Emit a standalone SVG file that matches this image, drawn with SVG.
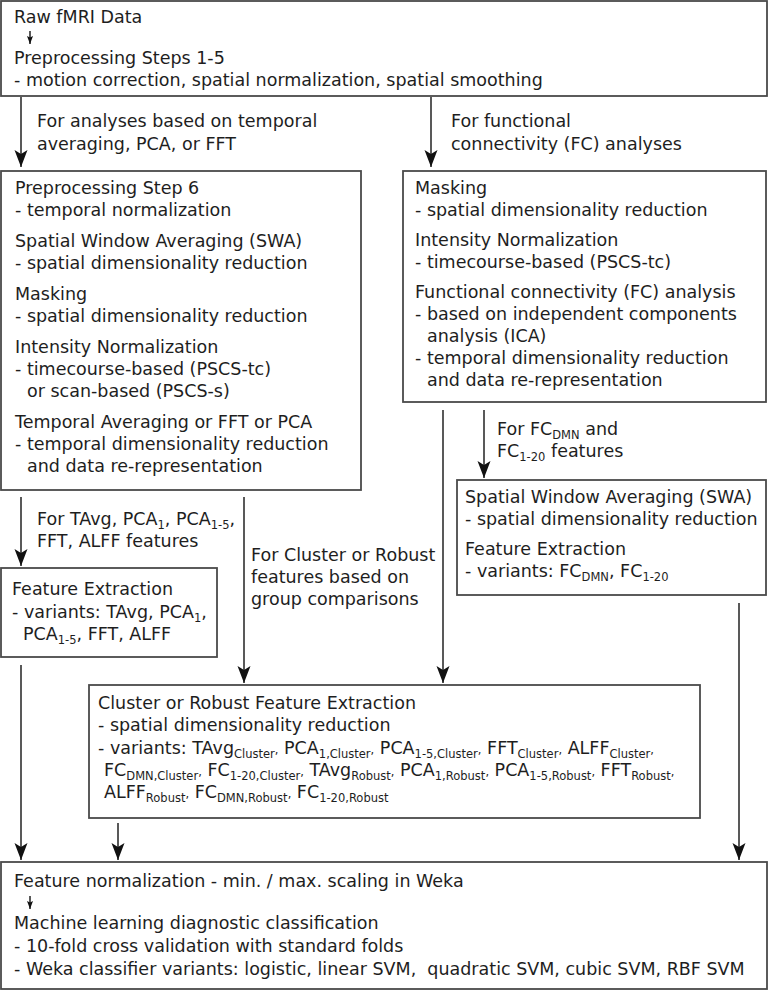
<svg xmlns="http://www.w3.org/2000/svg" width="769" height="991" viewBox="0 0 769 991">
<style>
text{font-family:"DejaVu Sans","Bitstream Vera Sans",sans-serif;font-size:17.5px;fill:#1e1e1e}
.s{font-size:11.5px}
.box{fill:#fff;stroke:#4a4a4a;stroke-width:1.8}
.ln{stroke:#222;stroke-width:1.5;fill:none}
</style>
<defs>
<marker id="ah" markerUnits="userSpaceOnUse" markerWidth="18" markerHeight="14" refX="17" refY="6.5" orient="auto">
<path d="M0,0 L17,6.5 L0,13 L4,6.5 Z" fill="#111"/>
</marker>
<marker id="sah" markerUnits="userSpaceOnUse" markerWidth="9" markerHeight="7" refX="8" refY="3" orient="auto">
<path d="M0,0 L8,3 L0,6 L1.5,3 Z" fill="#111"/>
</marker>
</defs>
<rect width="769" height="991" fill="#fff"/>

<g id="connectors">
<line class="ln" x1="21" y1="97" x2="21" y2="167" marker-end="url(#ah)"/>
<line class="ln" x1="431" y1="97" x2="431" y2="167" marker-end="url(#ah)"/>
<line class="ln" x1="21" y1="497" x2="21" y2="566" marker-end="url(#ah)"/>
<line class="ln" x1="244" y1="497" x2="244" y2="683" marker-end="url(#ah)"/>
<line class="ln" x1="443" y1="410" x2="443" y2="683" marker-end="url(#ah)"/>
<line class="ln" x1="484" y1="410" x2="484" y2="478" marker-end="url(#ah)"/>
<line class="ln" x1="21" y1="665" x2="21" y2="860" marker-end="url(#ah)"/>
<line class="ln" x1="118" y1="823" x2="118" y2="860" marker-end="url(#ah)"/>
<line class="ln" x1="739" y1="603" x2="739" y2="860" marker-end="url(#ah)"/>
<text x="37" y="127">For analyses based on temporal</text>
<text x="37" y="150">averaging, PCA, or FFT</text>
<text x="451" y="127">For functional</text>
<text x="451" y="150">connectivity (FC) analyses</text>
<text x="37" y="525">For TAvg, PCA<tspan class="s" dy="4">1</tspan><tspan dy="-4">, PCA</tspan><tspan class="s" dy="4">1-5</tspan><tspan dy="-4">,</tspan></text>
<text x="37" y="547">FFT, ALFF features</text>
<text x="251" y="561">For Cluster or Robust</text>
<text x="251" y="583">features based on</text>
<text x="251" y="605">group comparisons</text>
<text x="497" y="435">For FC<tspan class="s" dy="4">DMN</tspan><tspan dy="-4"> and</tspan></text>
<text x="497" y="457">FC<tspan class="s" dy="4">1-20</tspan><tspan dy="-4"> features</tspan></text>
</g>

<g id="raw">
<rect class="box" x="1" y="1" width="766" height="95"/>
<text x="14" y="23">Raw fMRI Data</text>
<line class="ln" x1="30" y1="31" x2="30" y2="44" stroke-width="1.2" marker-end="url(#sah)"/>
<text x="14" y="64">Preprocessing Steps 1-5</text>
<text x="14" y="86">- motion correction, spatial normalization, spatial smoothing</text>
</g>

<g id="step6">
<rect class="box" x="1" y="171" width="360" height="319"/>
<text x="15" y="194">Preprocessing Step 6</text>
<text x="15" y="216">- temporal normalization</text>
<text x="15" y="247">Spatial Window Averaging (SWA)</text>
<text x="15" y="269">- spatial dimensionality reduction</text>
<text x="15" y="300">Masking</text>
<text x="15" y="322">- spatial dimensionality reduction</text>
<text x="15" y="353">Intensity Normalization</text>
<text x="15" y="375">- timecourse-based (PSCS-tc)</text>
<text x="27" y="397">or scan-based (PSCS-s)</text>
<text x="15" y="428">Temporal Averaging or FFT or PCA</text>
<text x="15" y="450">- temporal dimensionality reduction</text>
<text x="27" y="472">and data re-representation</text>
</g>

<g id="fc">
<rect class="box" x="403" y="171" width="363" height="231"/>
<text x="415" y="194">Masking</text>
<text x="415" y="216">- spatial dimensionality reduction</text>
<text x="415" y="246">Intensity Normalization</text>
<text x="415" y="268">- timecourse-based (PSCS-tc)</text>
<text x="415" y="298">Functional connectivity (FC) analysis</text>
<text x="415" y="320">- based on independent components</text>
<text x="427" y="342">analysis (ICA)</text>
<text x="415" y="364">- temporal dimensionality reduction</text>
<text x="427" y="386">and data re-representation</text>
</g>

<g id="fe">
<rect class="box" x="1" y="568" width="216" height="89"/>
<text x="12" y="595">Feature Extraction</text>
<text x="12" y="618">- variants: TAvg, PCA<tspan class="s" dy="4">1</tspan><tspan dy="-4">,</tspan></text>
<text x="23" y="640">PCA<tspan class="s" dy="4">1-5</tspan><tspan dy="-4">, FFT, ALFF</tspan></text>
</g>

<g id="swa">
<rect class="box" x="457" y="480" width="309" height="115"/>
<text x="465" y="503">Spatial Window Averaging (SWA)</text>
<text x="465" y="525">- spatial dimensionality reduction</text>
<text x="465" y="555">Feature Extraction</text>
<text x="465" y="577">- variants: FC<tspan class="s" dy="4">DMN</tspan><tspan dy="-4">, FC</tspan><tspan class="s" dy="4">1-20</tspan></text>
</g>

<g id="cluster">
<rect class="box" x="89" y="685" width="611" height="133"/>
<text x="98" y="709">Cluster or Robust Feature Extraction</text>
<text x="98" y="731">- spatial dimensionality reduction</text>
<text x="98" y="754">- variants: TAvg<tspan class="s" dy="4">Cluster</tspan><tspan class="s" dy="-4">,</tspan> PCA<tspan class="s" dy="4">1,Cluster</tspan><tspan class="s" dy="-4">,</tspan> PCA<tspan class="s" dy="4">1-5,Cluster</tspan><tspan class="s" dy="-4">,</tspan> FFT<tspan class="s" dy="4">Cluster</tspan><tspan class="s" dy="-4">,</tspan> ALFF<tspan class="s" dy="4">Cluster</tspan><tspan class="s" dy="-4">,</tspan></text>
<text x="104" y="776">FC<tspan class="s" dy="4">DMN,Cluster</tspan><tspan class="s" dy="-4">,</tspan> FC<tspan class="s" dy="4">1-20,Cluster</tspan><tspan class="s" dy="-4">,</tspan> TAvg<tspan class="s" dy="4">Robust</tspan><tspan class="s" dy="-4">,</tspan> PCA<tspan class="s" dy="4">1,Robust</tspan><tspan class="s" dy="-4">,</tspan> PCA<tspan class="s" dy="4">1-5,Robust</tspan><tspan class="s" dy="-4">,</tspan> FFT<tspan class="s" dy="4">Robust</tspan><tspan class="s" dy="-4">,</tspan></text>
<text x="104" y="798">ALFF<tspan class="s" dy="4">Robust</tspan><tspan class="s" dy="-4">,</tspan> FC<tspan class="s" dy="4">DMN,Robust</tspan><tspan class="s" dy="-4">,</tspan> FC<tspan class="s" dy="4">1-20,Robust</tspan></text>
</g>

<g id="ml">
<rect class="box" x="1" y="862" width="766" height="127"/>
<text x="14" y="887">Feature normalization - min. / max. scaling in Weka</text>
<line class="ln" x1="30" y1="896" x2="30" y2="909" stroke-width="1.2" marker-end="url(#sah)"/>
<text x="14" y="929">Machine learning diagnostic classification</text>
<text x="14" y="952">- 10-fold cross validation with standard folds</text>
<text x="14" y="975" xml:space="preserve">- Weka classifier variants: logistic, linear SVM,  quadratic SVM, cubic SVM, RBF SVM</text>
</g>
</svg>
